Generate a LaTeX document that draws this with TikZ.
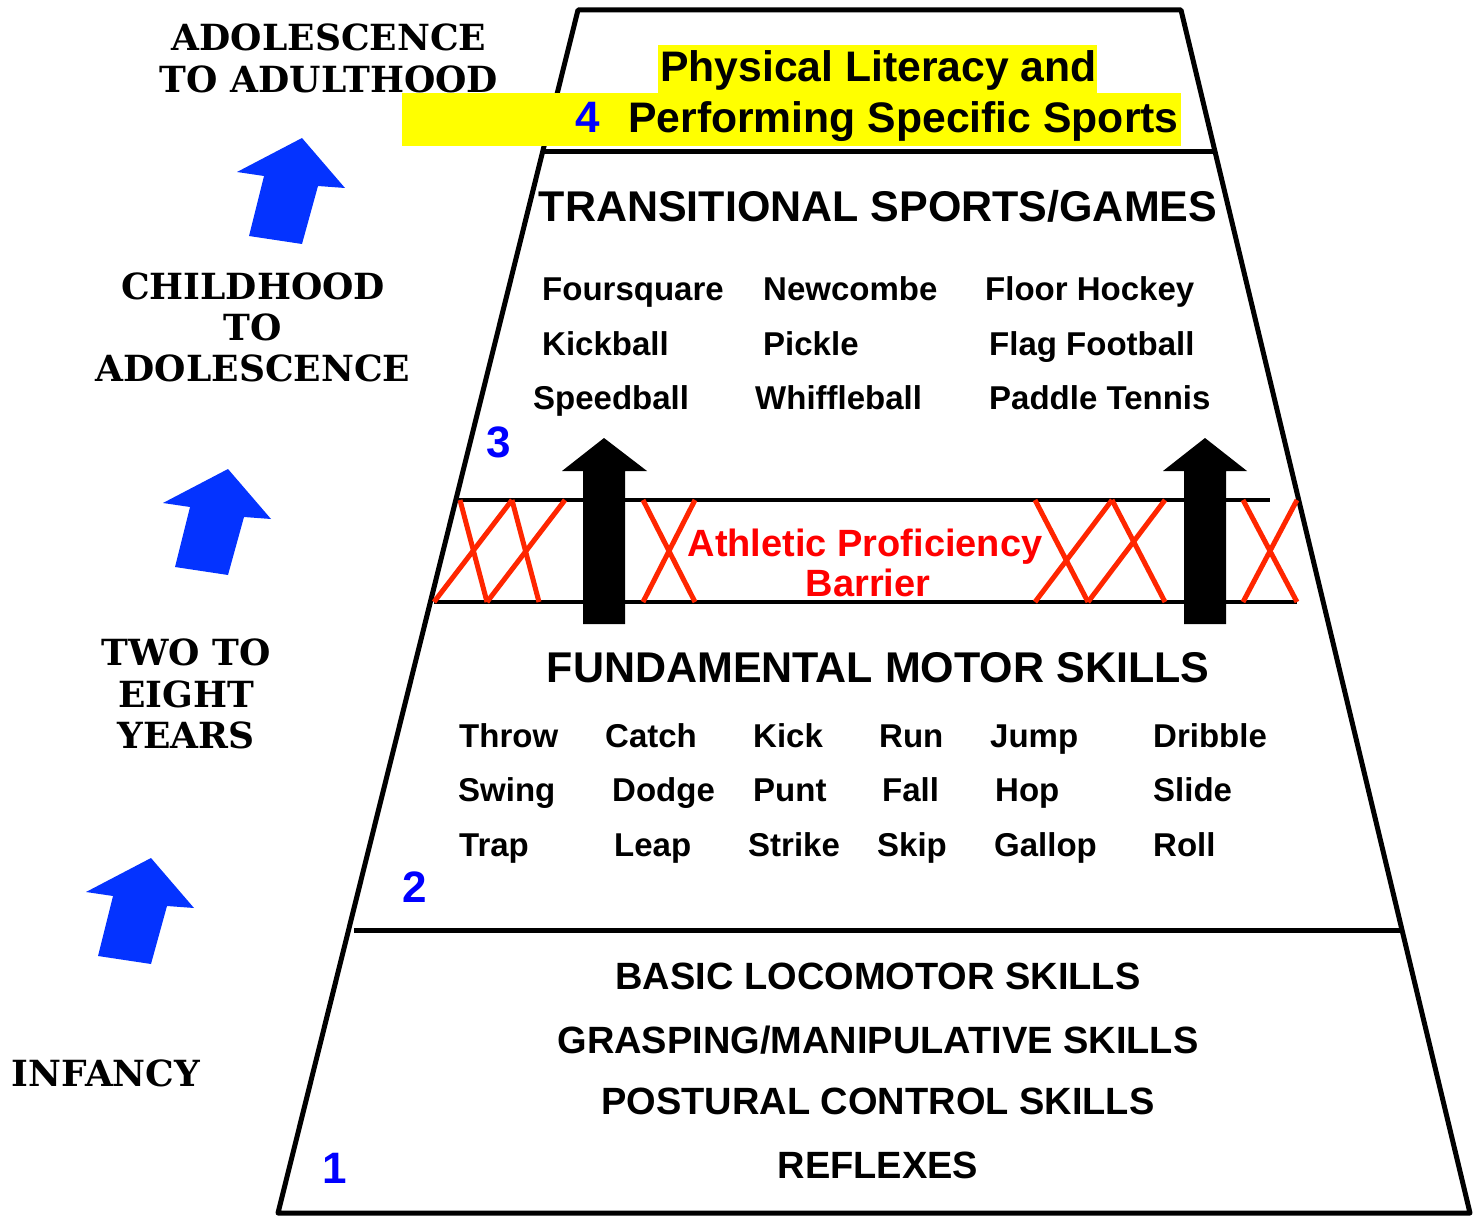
\documentclass[tikz,border=0pt]{standalone}
\usepackage{fontspec}
\setmainfont{Liberation Sans}
\newfontfamily\agefont{DejaVu Serif}
\definecolor{arrowblue}{RGB}{4,51,255}
\definecolor{numblue}{RGB}{0,0,255}
\definecolor{xred}{RGB}{255,38,0}
\definecolor{txtred}{RGB}{255,0,0}
\definecolor{hilite}{RGB}{255,255,0}
\begin{document}
\begin{tikzpicture}[x=1pt,y=-1pt,
  edge/.style={line width=5pt,line join=round,line cap=round},
  bar/.style={line width=4.5pt},
  cross/.style={line width=5pt,draw=xred},
  ttl/.style={font=\fontsize{43}{50}\selectfont\bfseries,anchor=base,inner sep=0pt},
  top/.style={font=\fontsize{42.7}{50}\selectfont\bfseries,anchor=base west,inner sep=0pt},
  item/.style={font=\fontsize{33}{40}\selectfont\bfseries,anchor=base west,inner sep=0pt},
  basic/.style={font=\fontsize{38}{44}\selectfont\bfseries,anchor=base,inner sep=0pt},
  barr/.style={font=\fontsize{38}{44}\selectfont\bfseries,anchor=base,inner sep=0pt,text=txtred},
  num/.style={font=\fontsize{44}{50}\selectfont\bfseries,anchor=base west,inner sep=0pt,text=numblue},
  age/.style={font=\agefont\bfseries\fontsize{36}{42}\selectfont,anchor=base,inner sep=0pt},
  bluearrow/.style={fill=arrowblue},
  blackarrow/.style={fill=black}]
\useasboundingbox (0,0) rectangle (1473,1217);
% pyramid outline
\coordinate (TL) at (578,10);
\coordinate (TR) at (1181,10);
\coordinate (BR) at (1470,1213);
\coordinate (BL) at (278,1213);
\draw[edge] (TL) -- (TR) -- (BR) -- (BL) -- cycle;
% dividers
\coordinate (d1l) at (543,152);
\coordinate (d1r) at (1215,152);
\coordinate (d2l) at (354,930);
\coordinate (d2r) at (1401,930);
\draw[edge,line cap=butt] (d1l) -- (d1r);
\draw[edge,line cap=butt] (d2l) -- (d2r);
% yellow highlight
\fill[hilite] (658,45) rectangle (1097,93);
\fill[hilite] (402,93) rectangle (1181,146);
\node[top] (pl1) at (660,82) {Physical Literacy and};
\node[top] (pl2) at (628,133) {Performing Specific Sports};
\node[num] (n4) at (575,133) {4};
% barrier lines
\coordinate (b1l) at (456,500);
\coordinate (b1r) at (1270,500);
\coordinate (b2l) at (434,602);
\coordinate (b2r) at (1297,602);
\draw[bar] (b1l) -- (b1r);
\draw[bar] (b2l) -- (b2r);
% red crosses
\draw[cross] (460,500) -- (487,602);
\draw[cross] (434,602) -- (512,500);
\draw[cross] (512,500) -- (539,602);
\draw[cross] (487,602) -- (565,500);
\draw[cross] (643,500) -- (695,602);
\draw[cross] (643,602) -- (695,500);
\draw[cross] (1035,500) -- (1088,602);
\draw[cross] (1035,602) -- (1112,500);
\draw[cross] (1112,500) -- (1165,602);
\draw[cross] (1088,602) -- (1165,500);
\draw[cross] (1243,500) -- (1297,602);
\draw[cross] (1243,602) -- (1297,500);
% black arrows
\fill[blackarrow] (583,624) -- (583,471) -- (562,471) -- (604,438) -- (647,471) -- (625,471) -- (625,624) -- cycle;
\fill[blackarrow] (1184,624) -- (1184,471) -- (1163,471) -- (1205,438) -- (1247,471) -- (1226,471) -- (1226,624) -- cycle;
\node[barr] (apb1) at (865,556) {Athletic Proficiency};
\node[barr] (apb2) at (868,596) {Barrier};
% transitional
\node[ttl] (tsg) at (878,222) {TRANSITIONAL SPORTS/GAMES};
\node[item] (t11) at (542,301) {Foursquare};
\node[item] (t12) at (763,301) {Newcombe};
\node[item] (t13) at (985,301) {Floor Hockey};
\node[item] (t21) at (542,355) {Kickball};
\node[item] (t22) at (763,355) {Pickle};
\node[item] (t23) at (989,355) {Flag Football};
\node[item] (t31) at (533,409) {Speedball};
\node[item] (t32) at (755,409) {Whiffleball};
\node[item] (t33) at (989,409) {Paddle Tennis};
\node[num] (n3) at (486,457) {3};
% fundamental
\node[ttl] (fms) at (878,682) {FUNDAMENTAL MOTOR SKILLS};
\node[item] (f11) at (459,747) {Throw};
\node[item] (f12) at (605,747) {Catch};
\node[item] (f13) at (753,747) {Kick};
\node[item] (f14) at (879,747) {Run};
\node[item] (f15) at (990,747) {Jump};
\node[item] (f16) at (1153,747) {Dribble};
\node[item] (f21) at (458,801) {Swing};
\node[item] (f22) at (612,801) {Dodge};
\node[item] (f23) at (753,801) {Punt};
\node[item] (f24) at (882,801) {Fall};
\node[item] (f25) at (995,801) {Hop};
\node[item] (f26) at (1153,801) {Slide};
\node[item] (f31) at (459,856) {Trap};
\node[item] (f32) at (614,856) {Leap};
\node[item] (f33) at (748,856) {Strike};
\node[item] (f34) at (877,856) {Skip};
\node[item] (f35) at (994,856) {Gallop};
\node[item] (f36) at (1153,856) {Roll};
\node[num] (n2) at (402,902) {2};
% basic
\node[basic] (bl1) at (878,989) {BASIC LOCOMOTOR SKILLS};
\node[basic] (bl2) at (878,1053) {GRASPING/MANIPULATIVE SKILLS};
\node[basic] (bl3) at (878,1114) {POSTURAL CONTROL SKILLS};
\node[basic] (bl4) at (878,1178) {REFLEXES};
\node[num] (n1) at (322,1183) {1};
% age labels
\node[age] (a1a) at (329,51) {ADOLESCENCE};
\node[age] (a1b) at (329,93) {TO ADULTHOOD};
\node[age] (a2a) at (253,299) {CHILDHOOD};
\node[age] (a2b) at (253,340) {TO};
\node[age] (a2c) at (253,381) {ADOLESCENCE};
\node[age] (a3a) at (186,665) {TWO TO};
\node[age] (a3b) at (186,707) {EIGHT};
\node[age] (a3c) at (186,748) {YEARS};
\node[age] (a4a) at (106,1086) {INFANCY};
% blue arrows
\foreach \tx/\ty in {302/138, 228/469, 151/858}{
  \fill[bluearrow,shift={(\tx,\ty)}] (0,0) -- (-65,34) -- (-38,38) -- (-53,98) -- (0,106) -- (16,48) -- (43,50) -- cycle;
}
\end{tikzpicture}
\end{document}
